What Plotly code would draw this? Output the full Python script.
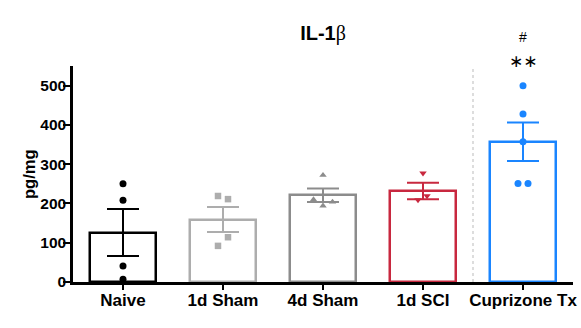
import plotly.graph_objects as go

categories = ["Naive", "1d Sham", "4d Sham", "1d SCI", "Cuprizone Tx"]
means = [126, 159, 221, 232, 357]
sems = [60, 32, 17, 21, 49]
points = [
    [250, 208, 41, 7],
    [219, 211, 114, 92],
    [272, 210, 204, 194],
    [277, 219, 209],
    [500, 428, 357, 251, 251],
]
offsets = [
    [0, 0, 0, 0],
    [-0.05, 0.05, 0.05, -0.05],
    [0, -0.095, 0.095, 0],
    [0, 0.04, -0.05],
    [0, 0, 0, -0.05, 0.05],
]
colors = ["#000000", "#ADADAD", "#8C8C8C", "#C8283F", "#1A85FF"]
symbols = ["circle", "square", "triangle-up", "triangle-down", "circle"]
yticks = [0, 100, 200, 300, 400, 500]

fig = go.Figure()
for i, cat in enumerate(categories):
    fig.add_trace(go.Bar(
        x=[i], y=[means[i]], width=0.667,
        marker=dict(color="white", line=dict(color=colors[i], width=2.5)),
        error_y=dict(type="data", array=[sems[i]], visible=True,
                     color=colors[i], thickness=2, width=16),
        showlegend=False, hoverinfo="skip",
    ))
for i, cat in enumerate(categories):
    fig.add_trace(go.Scatter(
        x=[i + o for o in offsets[i]], y=points[i], mode="markers",
        marker=dict(color=colors[i], size=7 if symbols[i] == "circle" else 6.5,
                    symbol=symbols[i]),
        cliponaxis=False, showlegend=False,
    ))

fig.add_shape(type="line", x0=3.5, x1=3.5, y0=0, y1=550, xref="x", yref="y",
              line=dict(color="#BBBBBB", width=1, dash="dot"))

fig.add_annotation(x=4, y=1.0245, xref="x", yref="paper", text="∗∗", showarrow=False,
                   xanchor="center", yanchor="middle",
                   font=dict(family="DejaVu Sans", size=17, color="#000000"))
fig.add_annotation(x=4, y=1.134, xref="x", yref="paper", text="#", showarrow=False,
                   xanchor="center", yanchor="middle",
                   font=dict(family="Liberation Sans", size=14, color="#000000"))
fig.add_annotation(x=-0.088, y=0.5, xref="paper", yref="paper", text="<b>pg/mg</b>",
                   textangle=-90, showarrow=False, xanchor="center", yanchor="middle",
                   font=dict(family="Liberation Sans", size=16.5, color="#000000"))

fig.update_layout(
    width=581, height=328,
    margin=dict(l=73, r=8, t=66, b=46, autoexpand=False),
    plot_bgcolor="white", paper_bgcolor="white",
    title=dict(text="<b>IL-1</b><span style='font-family:Liberation Serif;font-weight:normal'>β</span>",
               x=0.5, xref="paper", xanchor="center", y=0.9, yanchor="middle",
               font=dict(family="Liberation Sans", size=20, color="#000000")),
    font=dict(family="Liberation Sans", color="#000000"),
    bargap=0,
    xaxis=dict(range=[-0.5, 4.5], tickvals=list(range(len(categories))),
               ticktext=["<b>%s</b>" % c for c in categories],
               showline=True, linecolor="#000000", linewidth=2.5,
               ticks="outside", ticklen=5, tickwidth=2, tickcolor="#000000",
               tickfont=dict(size=17), showgrid=False, zeroline=False,
               ticklabelstandoff=-4,
               fixedrange=True, automargin=False),
    yaxis=dict(range=[0, 550], tickvals=yticks,
               ticktext=["<b>%d</b>" % v for v in yticks],
               showline=True, linecolor="#000000", linewidth=2.5,
               ticks="outside", ticklen=7, tickwidth=2, tickcolor="#000000",
               tickfont=dict(size=15.5), showgrid=False, zeroline=False,
               ticklabelstandoff=-6,
               fixedrange=True, automargin=False),
)
fig.write_html("out.html", config={"displayModeBar": False})

with open("out.html", "r", encoding="utf-8") as f:
    html = f.read()
html = html.replace("<head>", "<head><style>html,body{margin:0;padding:0;overflow:hidden;}</style>", 1)
with open("out.html", "w", encoding="utf-8") as f:
    f.write(html)
